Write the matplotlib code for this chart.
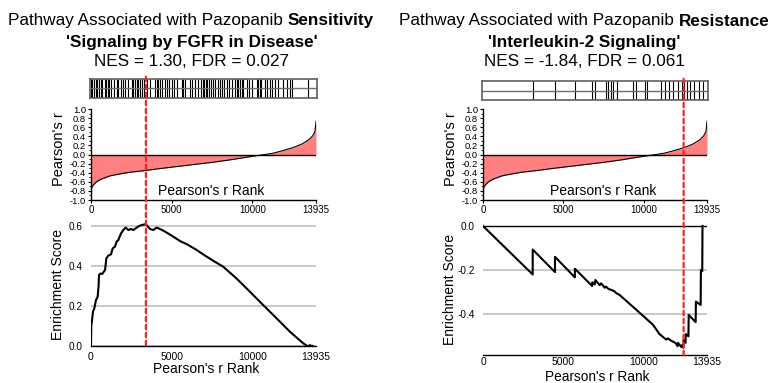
import matplotlib
matplotlib.use('Agg')
import matplotlib.pyplot as plt
from matplotlib.offsetbox import TextArea, HPacker, AnnotationBbox
from matplotlib.patches import ConnectionPatch

plt.rcParams['font.family'] = ['Liberation Sans', 'DejaVu Sans']

# ---- data ----
N_GENES = 13935
rank_ticks = [0, 5000, 10000, 13935]

# ranked Pearson's r (same ranking in both columns)
pr_rank = [0, 62, 145, 351, 661, 1177, 1796, 2415, 3344, 4480, 5512, 6544, 7577,
           8609, 9641, 10467, 10776, 11293, 11912, 12531, 13047, 13460, 13728, 13873, 13935]
pr_r = [-0.79, -0.72, -0.67, -0.596, -0.537, -0.47, -0.426, -0.39, -0.353, -0.30, -0.257,
        -0.213, -0.169, -0.118, -0.059, -0.015, 0.0, 0.03, 0.088, 0.154, 0.228, 0.316,
        0.41, 0.507, 0.73]

# sensitivity pathway: Signaling by FGFR in Disease
hits_sens = [0, 83, 186, 289, 392, 495, 599, 702, 867, 950, 1032, 1115, 1239, 1445, 1589,
             1693, 1858, 2002, 2105, 2270, 2518, 2621, 2725, 2828, 2931, 3034, 3137, 3303,
             3447, 3653, 3963, 4066, 4169, 4293, 4417, 4582, 4685, 4830, 4995, 5119, 5305,
             5614, 5718, 5821, 6131, 6275, 6440, 6646, 6811, 6956, 6998, 7121, 7204, 7307,
             7410, 7575, 7679, 7885, 7988, 8091, 8236, 8401, 8566, 8711, 8917, 9020, 9123,
             9226, 9330, 9433, 9639, 9804, 9949, 10258, 10361, 10465, 10527, 10774, 10877,
             11084, 11187, 11393, 11600, 11909, 12157, 12322, 12425, 13457]
es_sens_rank = [0, 20, 41, 124, 206, 310, 413, 470, 495, 599, 700, 764, 870, 950, 1073,
                1239, 1342, 1486, 1589, 1693, 1858, 2002, 2146, 2312, 2477, 2621, 2828, 3034,
                3303, 3447, 3653, 3860, 4066, 4273, 4582, 4995, 5511, 6027, 6544, 7060, 7600,
                8196, 9021, 9847, 10673, 11499, 12325, 13150, 13460, 13563, 13666, 13720]
es_sens = [0, 0.11, 0.113, 0.172, 0.188, 0.23, 0.247, 0.30, 0.355, 0.363, 0.36, 0.368, 0.38,
           0.438, 0.452, 0.458, 0.488, 0.497, 0.522, 0.53, 0.563, 0.58, 0.592, 0.58, 0.585,
           0.58, 0.592, 0.602, 0.608, 0.605, 0.585, 0.58, 0.592, 0.585, 0.572, 0.552, 0.525,
           0.505, 0.48, 0.452, 0.425, 0.396, 0.337, 0.271, 0.204, 0.138, 0.071, 0.013,
           -0.003, 0.005, -0.003, 0.0]
peak_sens = 3400

# resistance pathway: Interleukin-2 Signaling
hits_res = [3092, 4478, 5717, 6788, 6955, 7636, 7779, 7946, 8113, 8336, 9327, 9494, 10052,
            10176, 11043, 11290, 11557, 11829, 12114, 12386, 12530, 12696, 12902, 13150,
            13415, 13663]
es_res_rank = [0, 3092, 3092, 4478, 4478, 5717, 5717, 6788, 6800, 6955, 6990, 7258, 7350,
               7569, 7650, 7800, 7983, 8150, 8300, 8502, 9539, 10576, 10977, 11392, 11500,
               11702, 11969, 12112, 12130, 12341, 12386, 12465, 12480, 12600, 12615, 12780,
               12795, 13230, 13245, 13540, 13555, 13640, 13655]
es_res = [0, -0.22, -0.107, -0.209, -0.14, -0.233, -0.194, -0.272, -0.255, -0.265, -0.245,
          -0.268, -0.26, -0.28, -0.275, -0.285, -0.29, -0.295, -0.305, -0.313, -0.38, -0.448,
          -0.49, -0.515, -0.51, -0.52, -0.53, -0.545, -0.53, -0.549, -0.54, -0.552, -0.515,
          -0.53, -0.49, -0.50, -0.403, -0.436, -0.343, -0.358, -0.20, -0.205, 0.0]
peak_res = 12480

W, H = 770, 383
fig = plt.figure(figsize=(W / 100, H / 100), dpi=100)


def px_axes(x0, y0, x1, y1):
    return fig.add_axes([x0 / W, 1 - y1 / H, (x1 - x0) / W, (y1 - y0) / H])


def title_line(parts, xc, yc):
    boxes = [TextArea(t, textprops=dict(fontsize=12.3, color='black',
                                        fontweight='bold' if b else 'normal'))
             for t, b in parts]
    pack = HPacker(children=boxes, align='baseline', pad=0, sep=3.4)
    ab = AnnotationBbox(pack, (xc / W, 1 - yc / H), xycoords='figure fraction',
                        box_alignment=(0.5, 0.5), frameon=False, pad=0)
    fig.add_artist(ab)


def column(x0, x1, bar_y, es_y, hits, es_rank, es_val, es_lim, es_ticks, peak,
           xpad, xlab_y, xlab_size):
    # barcode of gene-set members
    bar = px_axes(x0 - 1, bar_y, x1 + 1, bar_y + 19)
    bar.vlines(hits, 0, 1, color='black', lw=0.8)
    bar.axhline(0.5, color='#707070', lw=1)
    bar.set_xlim(-60, N_GENES + 60)
    bar.set_ylim(0, 1)
    bar.set_xticks([])
    bar.set_yticks([])
    for s in bar.spines.values():
        s.set_color('#606060')
        s.set_linewidth(1.2)

    # ranked correlation
    pr = px_axes(x0, 109, x1, 200)
    pr.fill_between(pr_rank, pr_r, 0, color='#ff8080', lw=0)
    pr.plot(pr_rank, pr_r, color='black', lw=0.8)
    pr.axhline(0, color='black', lw=1)
    pr.set_xlim(0, N_GENES)
    pr.set_ylim(-1, 1)
    yt = [round(-1 + 0.2 * i, 1) for i in range(11)]
    pr.set_yticks(yt)
    pr.set_yticklabels(['%.1f' % v for v in yt])
    pr.set_yticks([round(-0.9 + 0.2 * i, 1) for i in range(10)], minor=True)
    pr.set_xticks(rank_ticks)
    pr.set_xticklabels([str(v) for v in rank_ticks])
    pr.tick_params(axis='y', labelsize=6.8, length=2.5, width=0.8, pad=1)
    pr.tick_params(axis='y', which='minor', length=1.5, width=0.6)
    pr.tick_params(axis='x', labelsize=7, length=2, width=0.8, pad=1.5)
    for s in ['top', 'right']:
        pr.spines[s].set_visible(False)
    for s in ['left', 'bottom']:
        pr.spines[s].set_linewidth(1)
    pr.set_ylabel("Pearson's r", fontsize=10.5)
    pr.yaxis.set_label_coords(-0.11, 0.56)
    pr.text(0.535, 0.1, "Pearson's r Rank", transform=pr.transAxes,
            fontsize=10, ha='center', va='center')

    # running enrichment score
    es = px_axes(x0, es_y[0], x1, es_y[1])
    for g in es_ticks:
        if g != 0:
            es.axhline(g, color='#c4c4c4', lw=1.3, zorder=0)
    es.axhline(0, color='black', lw=1, zorder=1)
    es.plot(es_rank, es_val, color='black', lw=1.5, zorder=2)
    es.set_xlim(0, N_GENES)
    es.set_ylim(*es_lim)
    es.set_yticks(es_ticks)
    es.set_yticklabels(['%.1f' % v for v in es_ticks])
    es.set_xticks(rank_ticks)
    es.set_xticklabels([str(v) for v in rank_ticks])
    es.tick_params(axis='y', labelsize=7.2, length=0, pad=6)
    es.tick_params(axis='x', labelsize=7.5, length=0, pad=xpad)
    for s in ['top', 'right', 'left']:
        es.spines[s].set_visible(False)
    es.spines['bottom'].set_linewidth(1)
    es.set_ylabel('Enrichment Score', fontsize=10)
    es.yaxis.set_label_coords(-0.115, 0.5)
    es.set_xlabel("Pearson's r Rank", fontsize=xlab_size)
    es.xaxis.set_label_coords(0.51, xlab_y)

    # red dashed marker at the leading-edge peak, through all three panels
    con = ConnectionPatch(xyA=(peak, 1.12), coordsA=bar.get_xaxis_transform(),
                          xyB=(peak, 0), coordsB=es.get_xaxis_transform(),
                          arrowstyle='-', color='#ff2020', lw=1.6,
                          linestyle=(0, (2, 1.6)), zorder=5)
    fig.add_artist(con)


column(91, 316, 79, (222, 346), hits_sens, es_sens_rank, es_sens, (0, 0.62),
       [0.0, 0.2, 0.4, 0.6], peak_sens, 4, -0.13, 10)
column(483, 707, 81, (224, 355), hits_res, es_res_rank, es_res, (-0.585, 0.009),
       [0.0, -0.2, -0.4], peak_res, 1.5, -0.118, 9.8)

title_line([('Pathway Associated with Pazopanib', False), ('Sensitivity', True)], 191, 21)
title_line([("'Signaling by FGFR in Disease'", True)], 192, 42)
title_line([('NES = 1.30, FDR = 0.027', False)], 191, 62)
title_line([('Pathway Associated with Pazopanib', False), ('Resistance', True)], 584, 21)
title_line([("'Interleukin-2 Signaling'", True)], 584, 42)
title_line([('NES = -1.84, FDR = 0.061', False)], 584, 62)

fig.savefig('out.png', dpi=100)
